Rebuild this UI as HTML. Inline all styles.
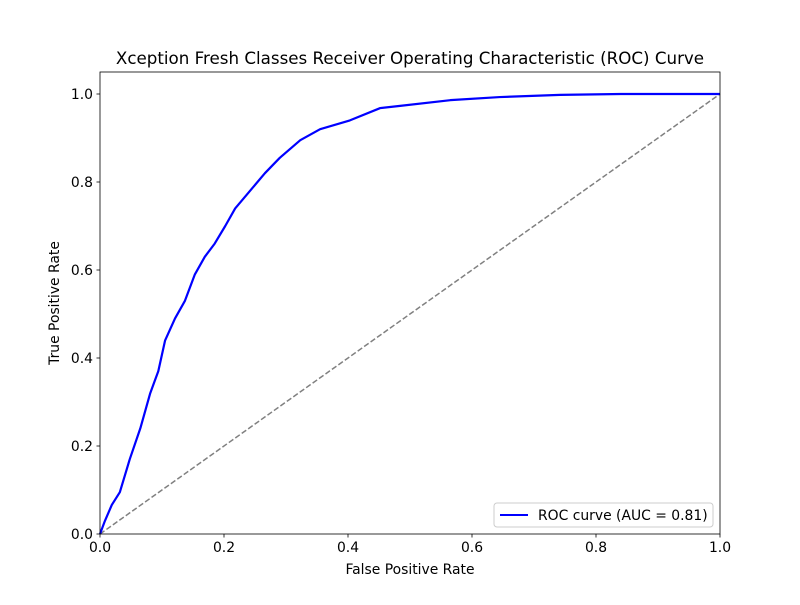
<!DOCTYPE html>
<html><head><meta charset="utf-8"><style>
body{margin:0;background:#fff;}
svg text{font-family:"DejaVu Sans","Liberation Sans",sans-serif;fill:#000;}
</style></head><body>
<svg id="chart" width="800" height="600" xmlns="http://www.w3.org/2000/svg">
<rect width="800" height="600" fill="#fff"/>
<text x="410" y="64" font-size="16.7" text-anchor="middle">Xception Fresh Classes Receiver Operating Characteristic (ROC) Curve</text>
<g id="axes"></g>
<text x="410" y="574" font-size="13.9" text-anchor="middle">False Positive Rate</text>
<text x="0" y="0" font-size="13.9" text-anchor="middle" transform="translate(59,303) rotate(-90)">True Positive Rate</text>
</svg>
<script>
const fpr=[0,0.008,0.019,0.032,0.048,0.065,0.081,0.094,0.105,0.121,0.137,0.153,0.169,0.185,0.202,0.218,0.242,0.266,0.29,0.323,0.355,0.403,0.452,0.484,0.565,0.645,0.742,0.84,1];
const tpr=[0,0.03,0.066,0.095,0.17,0.24,0.32,0.37,0.44,0.49,0.53,0.59,0.63,0.66,0.70,0.74,0.78,0.82,0.855,0.895,0.92,0.94,0.968,0.973,0.986,0.993,0.998,1,1];
const xTicks=[0,0.2,0.4,0.6,0.8,1.0];
const yTicks=[0,0.2,0.4,0.6,0.8,1.0];
const aucLabel="ROC curve (AUC = 0.81)";
const L=100,R=720,T=72,B=534;
const sx=v=>L+v*(R-L);
const sy=v=>B-v/1.05*(B-T);
const NS="http://www.w3.org/2000/svg";
const g=document.getElementById('axes');
function mk(t,a){const e=document.createElementNS(NS,t);for(const k in a)e.setAttribute(k,a[k]);g.appendChild(e);return e;}
let d=mk('line',{x1:sx(0),y1:sy(0),x2:sx(1),y2:sy(1),stroke:'#808080','stroke-width':1.5,'stroke-dasharray':'5.5,2.4'});


let p=mk('polyline',{points:fpr.map((v,i)=>sx(v)+','+sy(tpr[i])).join(' '),fill:'none',stroke:'#0000ff','stroke-width':2.2,'stroke-linejoin':'round'});


let f=mk('rect',{x:L,y:T,width:R-L,height:B-T,fill:'none',stroke:'#000','stroke-width':0.8});


xTicks.forEach(v=>{
 let t=mk('line',{x1:sx(v),x2:sx(v),y1:B,y2:B+3.5,stroke:'#000','stroke-width':0.8});
 
 
 let l=mk('text',{x:sx(v),y:B+18,'font-size':13.9,'text-anchor':'middle'});l.textContent=v.toFixed(1);
 
 
});
yTicks.forEach(v=>{
 let t=mk('line',{x1:L-3.5,x2:L,y1:sy(v),y2:sy(v),stroke:'#000','stroke-width':0.8});
 
 
 let l=mk('text',{x:L-7,y:sy(v)+5,'font-size':13.9,'text-anchor':'end'});l.textContent=v.toFixed(1);
 
 
});
let lb=mk('rect',{x:494,y:503,width:219,height:24,rx:3,fill:'#fff',stroke:'#ccc','stroke-width':1});


let ll=mk('line',{x1:500,x2:528,y1:515,y2:515,stroke:'#0000ff','stroke-width':2});


let lt=mk('text',{x:538,y:520,'font-size':13.9});lt.textContent=aucLabel;


</script>
</body></html>
